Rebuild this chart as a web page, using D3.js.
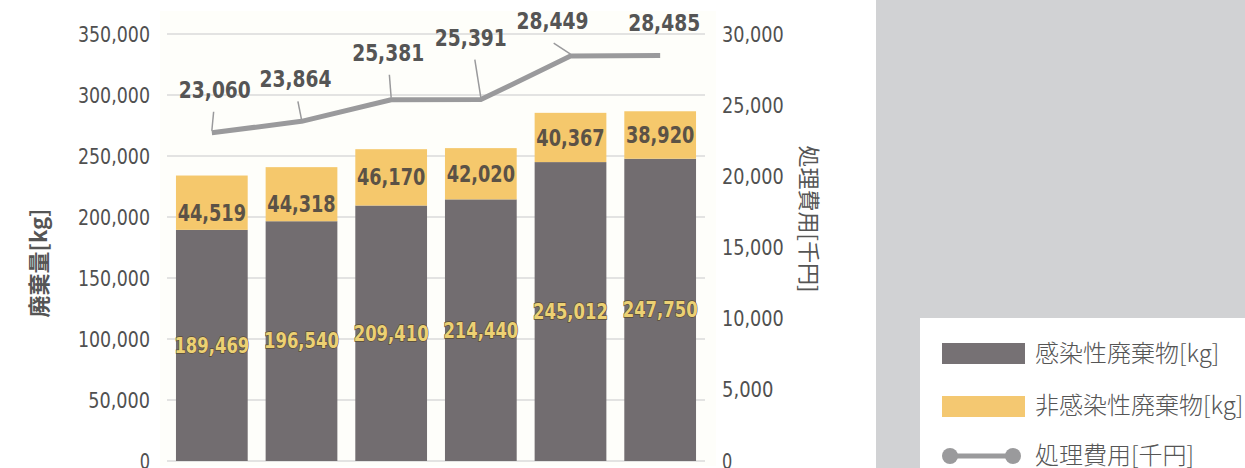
<!DOCTYPE html>
<html lang="ja">
<head>
<meta charset="utf-8">
<title>廃棄量と処理費用</title>
<script src="https://d3js.org/d3.v7.min.js"></script>
<style>
  body { margin: 0; background: #fff; }
  svg { display: block; }
  .num { font-family: "DejaVu Sans", sans-serif; }
  .jp { font-family: "Noto Sans CJK JP", "Noto Sans", sans-serif; }
</style>
</head>
<body>
<div id="chart"></div>
<script>
// data
const years = ["y1", "y2", "y3", "y4", "y5", "y6"];
const infectious = [189469, 196540, 209410, 214440, 245012, 247750];
const nonInfectious = [44519, 44318, 46170, 42020, 40367, 38920];
const cost = [23060, 23864, 25381, 25391, 28449, 28485];
const leftTicks = [0, 50000, 100000, 150000, 200000, 250000, 300000, 350000];
const rightTicks = [0, 5000, 10000, 15000, 20000, 25000, 30000];
const legendLabels = ["感染性廃棄物[kg]", "非感染性廃棄物[kg]", "処理費用[千円]"];

// where each cost label sits relative to its point (dx, dy) - annotation layout only
const costLabelOffset = [[3, -35], [-6, -34], [-3, -39], [-10, -54], [-18, -27], [4, -25]];

const W = 1245, H = 468;
const margin = { left: 167, right: 705, top: 34, bottom: 461 };

const svg = d3.select("#chart").append("svg")
  .attr("width", W).attr("height", H);

// squeeze the digits, the original uses a condensed face
function narrow(sel, perChar) {
  sel.attr("textLength", function () { return this.textContent.length * perChar; })
    .attr("lengthAdjust", "spacingAndGlyphs");
}

// faint panel behind the plot
svg.append("rect")
  .attr("x", 160).attr("y", 11).attr("width", 556).attr("height", 455)
  .attr("fill", "#fefefa");

const x = d3.scaleBand().domain(years)
  .range([margin.left, margin.right])
  .paddingInner(0.2).paddingOuter(0.1);
const yL = d3.scaleLinear().domain([0, 350000]).range([margin.bottom, margin.top]);
const yR = d3.scaleLinear().domain([0, 30000]).range([margin.bottom, margin.top]);

const fmt = d3.format(",");

// gridlines
svg.append("g")
  .selectAll("line").data(leftTicks).join("line")
  .attr("x1", margin.left).attr("x2", margin.right)
  .attr("y1", d => yL(d)).attr("y2", d => yL(d))
  .attr("stroke", "#dadada").attr("stroke-width", 1.5);

// left axis
const axL = svg.append("g").attr("transform", `translate(${margin.left},0)`)
  .call(d3.axisLeft(yL).tickValues(leftTicks).tickFormat(fmt).tickSize(0).tickPadding(17));
axL.select(".domain").remove();
axL.selectAll("text").attr("class", "num").attr("font-size", 22).attr("fill", "#505050")
  .call(narrow, 10.3);

// right axis
const axR = svg.append("g").attr("transform", `translate(${margin.right},0)`)
  .call(d3.axisRight(yR).tickValues(rightTicks).tickFormat(fmt).tickSize(0).tickPadding(17));
axR.select(".domain").remove();
axR.selectAll("text").attr("class", "num").attr("font-size", 22).attr("fill", "#505050")
  .call(narrow, 10.3);

// bars
const bars = svg.append("g");
bars.selectAll("rect.inf").data(years).join("rect")
  .attr("class", "inf")
  .attr("x", d => x(d)).attr("width", x.bandwidth())
  .attr("y", (d, i) => yL(infectious[i]))
  .attr("height", (d, i) => yL(0) - yL(infectious[i]))
  .attr("fill", "#726d70");
bars.selectAll("rect.non").data(years).join("rect")
  .attr("class", "non")
  .attr("x", d => x(d)).attr("width", x.bandwidth())
  .attr("y", (d, i) => yL(infectious[i] + nonInfectious[i]))
  .attr("height", (d, i) => yL(infectious[i]) - yL(infectious[i] + nonInfectious[i]))
  .attr("fill", "#f5c86c");

// bar labels
svg.append("g").selectAll("text").data(years).join("text")
  .attr("class", "num")
  .attr("x", d => x(d) + x.bandwidth() / 2)
  .attr("y", (d, i) => yL(infectious[i] / 2))
  .attr("dy", "0.35em")
  .attr("text-anchor", "middle")
  .attr("font-size", 21).attr("font-weight", "bold")
  .attr("fill", "#ecd173").attr("stroke", "#5a4c36").attr("stroke-width", 1.3)
  .attr("paint-order", "stroke")
  .text((d, i) => fmt(infectious[i]))
  .call(narrow, 10.7);

svg.append("g").selectAll("text").data(years).join("text")
  .attr("class", "num")
  .attr("x", d => x(d) + x.bandwidth() / 2)
  .attr("y", (d, i) => yL(infectious[i] + nonInfectious[i] / 2) + (i < 2 ? 10 : 0))
  .attr("dy", "0.35em")
  .attr("text-anchor", "middle")
  .attr("font-size", 23).attr("font-weight", "bold")
  .attr("fill", "#5b5246")
  .text((d, i) => fmt(nonInfectious[i]))
  .call(narrow, 11.4);

// cost line
const cx = d => x(d) + x.bandwidth() / 2;
const line = d3.line().x(d => cx(d)).y((d, i) => yR(cost[i]));
svg.append("path").datum(years)
  .attr("d", line)
  .attr("fill", "none").attr("stroke", "#9a9a9c").attr("stroke-width", 5)
  .attr("stroke-linejoin", "round");

// cost labels with leaders
const ann = svg.append("g");
years.forEach((d, i) => {
  const px = cx(d), py = yR(cost[i]);
  const [dx, dy] = costLabelOffset[i];
  if (i < 5) {
    ann.append("line")
      .attr("x1", px + dx * 0.6 - (i === 4 ? 6 : 0)).attr("y1", py + dy + 14)
      .attr("x2", px).attr("y2", py - 2)
      .attr("stroke", "#9a9a9c").attr("stroke-width", 1.5);
  }
  ann.append("text")
    .attr("class", "num")
    .attr("x", px + dx).attr("y", py + dy)
    .attr("text-anchor", "middle")
    .attr("font-size", 23).attr("font-weight", "bold")
    .attr("fill", "#555")
    .text(fmt(cost[i]))
    .call(narrow, 12);
});

// axis titles
svg.append("text")
  .attr("class", "jp")
  .attr("transform", "translate(47,263) rotate(-90)")
  .attr("text-anchor", "middle")
  .attr("font-size", 22).attr("font-weight", "bold")
  .attr("fill", "#555")
  .text("廃棄量[kg]");

svg.append("text")
  .attr("class", "jp")
  .attr("transform", "translate(801,219) rotate(90)")
  .attr("text-anchor", "middle")
  .attr("font-size", 22)
  .attr("fill", "#555")
  .text("処理費用[千円]");

// right side panel + legend
svg.append("rect")
  .attr("x", 876).attr("y", 0).attr("width", W - 876).attr("height", H)
  .attr("fill", "#d1d2d4");
svg.append("rect")
  .attr("x", 920).attr("y", 318).attr("width", W - 920).attr("height", H - 318)
  .attr("fill", "#fff");

const leg = svg.append("g");
const legY = [354, 406, 456];
leg.append("rect").attr("x", 942).attr("y", legY[0] - 11).attr("width", 83).attr("height", 21).attr("fill", "#767174");
leg.append("rect").attr("x", 942).attr("y", legY[1] - 10).attr("width", 83).attr("height", 21).attr("fill", "#f4c871");
leg.append("line").attr("x1", 950).attr("x2", 1013).attr("y1", legY[2]).attr("y2", legY[2])
  .attr("stroke", "#9a9a9c").attr("stroke-width", 5);
leg.selectAll("circle").data([950, 1013]).join("circle")
  .attr("cx", d => d).attr("cy", legY[2]).attr("r", 8).attr("fill", "#9a9a9c");
leg.selectAll("text").data(legendLabels).join("text")
  .attr("class", "jp")
  .attr("x", 1035).attr("y", (d, i) => legY[i])
  .attr("dy", "0.35em")
  .attr("font-size", 24).attr("font-weight", 300)
  .attr("fill", "#555")
  .text(d => d);
</script>
</body>
</html>
